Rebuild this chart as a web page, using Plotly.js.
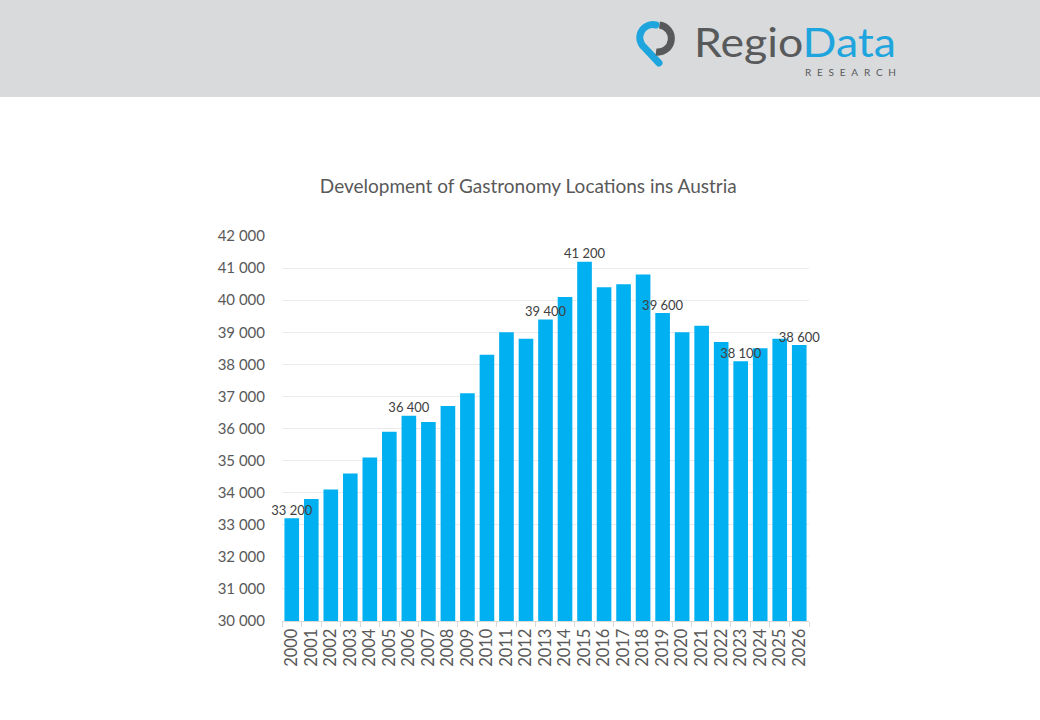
<!DOCTYPE html>
<html>
<head>
<meta charset="utf-8">
<script src="https://cdn.plot.ly/plotly-3.0.1.min.js"></script>
<style>
  html, body { margin: 0; padding: 0; background: #ffffff; }
  #wrap { position: relative; width: 1040px; height: 720px; overflow: hidden; }
  #header { position: absolute; left: 0; top: 0; width: 1040px; height: 97px; background: #d9dadc; }
  #chart { position: absolute; left: 0; top: 0; width: 1040px; height: 720px; }
</style>
</head>
<body>
<div id="wrap">
  <div id="header">
    <svg width="1040" height="97" xmlns="http://www.w3.org/2000/svg">
      <path d="M 656 25 A 13 13 0 0 0 645 48 L 659 63" fill="none" stroke="#1fa5de" stroke-width="7" stroke-linecap="round"/>
      <path d="M 659.5 25 A 13 13 0 0 1 656 52" fill="none" stroke="#58595b" stroke-width="7"/>
      <text x="694" y="57" font-family="Lato" font-size="40" textLength="202" lengthAdjust="spacingAndGlyphs"><tspan fill="#58595b">Regio</tspan><tspan fill="#1fa5de">Data</tspan></text>
      <text x="805" y="75.5" font-family="Lato" font-size="10" fill="#58595b" textLength="91" lengthAdjust="spacing">RESEARCH</text>
    </svg>
  </div>
  <div id="chart"></div>
</div>
<script>
const years = ['2000','2001','2002','2003','2004','2005','2006','2007','2008','2009','2010','2011','2012','2013',
  '2014','2015','2016','2017','2018','2019','2020','2021','2022','2023','2024','2025','2026'];
const locations = [33200, 33800, 34100, 34600, 35100, 35900, 36400, 36200, 36700, 37100, 38300, 39000, 38800, 39400,
  40100, 41200, 40400, 40500, 40800, 39600, 39000, 39200, 38700, 38100, 38500, 38800, 38600];
const labeledYears = ['2000','2006','2013','2015','2019','2023','2026'];
const yTickVals = [30000, 31000, 32000, 33000, 34000, 35000, 36000, 37000, 38000, 39000, 40000, 41000, 42000];
const chartTitle = 'Development of Gastronomy Locations ins Austria';

function fmt(v) {
  const th = Math.floor(v / 1000);
  const rest = String(v % 1000).padStart(3, '0');
  return th + ' ' + rest;
}
const labelY = labeledYears.map(y => locations[years.indexOf(y)]);
const labelText = labelY.map(fmt);

const bars = {
  type: 'bar',
  x: years,
  y: locations,
  marker: { color: '#00b0f0', line: { width: 0 } },
  hoverinfo: 'none'
};

const valueLabels = {
  type: 'scatter',
  mode: 'text',
  x: labeledYears,
  y: labelY,
  text: labelText,
  textposition: 'top center',
  cliponaxis: false,
  textfont: { family: 'Lato', size: 13, color: '#404040' },
  hoverinfo: 'none'
};

const layout = {
  width: 1040,
  height: 720,
  margin: { l: 282, r: 231, t: 236, b: 99 },
  paper_bgcolor: 'rgba(0,0,0,0)',
  plot_bgcolor: 'rgba(0,0,0,0)',
  separators: '. ',
  showlegend: false,
  bargap: 0.25,
  font: { family: 'Lato', color: '#595959' },
  title: {
    text: chartTitle,
    font: { family: 'Lato', size: 19, color: '#595959' },
    xref: 'container', yref: 'container',
    x: 0.508, y: 1 - 186 / 720,
    xanchor: 'center', yanchor: 'middle'
  },
  xaxis: {
    type: 'category',
    categoryorder: 'array', categoryarray: years,
    range: [-0.5, years.length - 0.5],
    tickmode: 'array', tickvals: years, ticktext: years,
    tickangle: -90,
    tickfont: { family: 'Lato', size: 16.5, color: '#595959' },
    showline: true, linecolor: '#d9d9d9', linewidth: 1,
    ticks: 'outside', ticklen: 5, tickcolor: '#d9d9d9', tickson: 'boundaries',
    showgrid: false, zeroline: false
  },
  yaxis: {
    range: [30000, 42000],
    tickvals: yTickVals,
    tickformat: ',d',
    tickfont: { family: 'Lato', size: 15, color: '#595959' },
    showgrid: true, gridcolor: '#ebebeb', gridwidth: 1,
    zeroline: false, showline: false, ticks: '',
    ticklabelstandoff: 16
  }
};

Plotly.newPlot('chart', [bars, valueLabels], layout, { displayModeBar: false, staticPlot: true });
</script>
</body>
</html>
